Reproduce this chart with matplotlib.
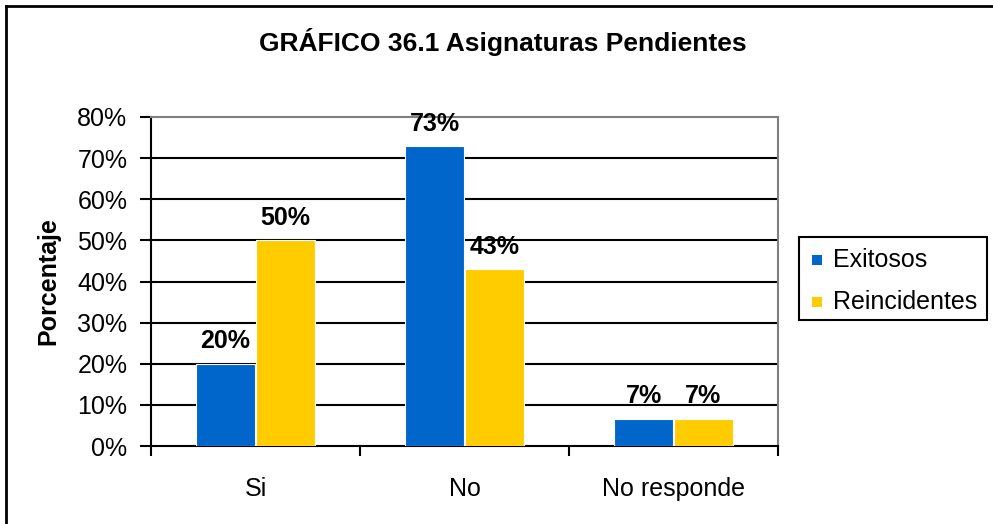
import matplotlib
matplotlib.use("Agg")
import matplotlib.pyplot as plt
from matplotlib.lines import Line2D
from matplotlib.patches import Rectangle
import numpy as np

plt.rcParams['font.family'] = ['Liberation Sans', 'DejaVu Sans']

categories = ["Si", "No", "No responde"]
exitosos = [20, 73, 6.67]
reincidentes = [50, 43, 6.67]
series_names = ["Exitosos", "Reincidentes"]
colors = ["#0066CC", "#FFCC00"]
yticks = [0, 10, 20, 30, 40, 50, 60, 70, 80]
title = "GRÁFICO 36.1 Asignaturas Pendientes"
ylabel = "Porcentaje"

FS = 18
W, H = 993, 524
fig = plt.figure(figsize=(W / 100, H / 100), dpi=100)
fig.patch.set_facecolor("white")

# plot area in pixel coordinates
left, right, top, bottom = 151, 778, 117, 446
ax = fig.add_axes([left / W, (H - bottom) / H, (right - left) / W, (bottom - top) / H])

x = np.arange(len(categories))
bw = 0.28
off = 0.143
for vals, dx, c, name in [(exitosos, -off, colors[0], series_names[0]),
                          (reincidentes, off, colors[1], series_names[1])]:
    bars = ax.bar(x + dx, vals, width=bw, color=c, edgecolor="white",
                  linewidth=0.8, label=name, zorder=3)
    for b, v in zip(bars, vals):
        ax.text(b.get_x() + b.get_width() / 2, v + 2.5, f"{round(v)}%",
                ha="center", va="bottom", fontsize=FS, fontweight="bold",
                zorder=5)

ax.set_xlim(-0.5, 2.5)
ax.set_ylim(0, 80)
ax.set_yticks(yticks)
ax.set_yticklabels([f"{t}%" for t in yticks], fontsize=FS)
for t in yticks[1:-1]:
    ax.axhline(t, color="black", linewidth=1.5, zorder=1)

ax.set_xticks(x)
ax.set_xticklabels(categories, fontsize=FS)
ax.tick_params(axis="x", length=0, pad=22)
ax.tick_params(axis="y", length=8, width=1.5, direction="out", pad=9)
# category boundary ticks
ax.set_xticks([-0.5, 0.5, 1.5, 2.5], minor=True)
ax.tick_params(axis="x", which="minor", length=7, width=1.5, direction="out")

for s in ["left", "bottom"]:
    ax.spines[s].set_color("black")
    ax.spines[s].set_linewidth(1.5)
for s in ["top", "right"]:
    ax.spines[s].set_color("#808080")
    ax.spines[s].set_linewidth(1.5)

ax.set_ylabel(ylabel, fontsize=FS, fontweight="bold", labelpad=12)

fig.text(503 / W, 1 - 42 / H, title, ha="center", va="center",
         fontsize=19, fontweight="bold")

# legend box
lx0, lx1, ly0, ly1 = 799, 987, 237, 320
fig.patches.append(Rectangle((lx0 / W, 1 - ly1 / H), (lx1 - lx0) / W, (ly1 - ly0) / H,
                             transform=fig.transFigure, facecolor="white",
                             edgecolor="black", linewidth=1.5))
for i, (name, c) in enumerate(zip(series_names, colors)):
    cy = 260 + i * 42
    fig.patches.append(Rectangle((812 / W, 1 - (cy + 5) / H), 10 / W, 10 / H,
                                 transform=fig.transFigure, facecolor=c,
                                 edgecolor="none"))
    fig.text(833 / W, 1 - cy / H, name, ha="left", va="center", fontsize=FS)

# outer frame (left and top edges)
fig.add_artist(Line2D([6 / W, 6 / W], [0, 1 - 6 / H], color="black", linewidth=2,
                      transform=fig.transFigure))
fig.add_artist(Line2D([6 / W, 1], [1 - 6 / H, 1 - 6 / H], color="black", linewidth=2,
                      transform=fig.transFigure))

fig.savefig("out.png", dpi=100)
